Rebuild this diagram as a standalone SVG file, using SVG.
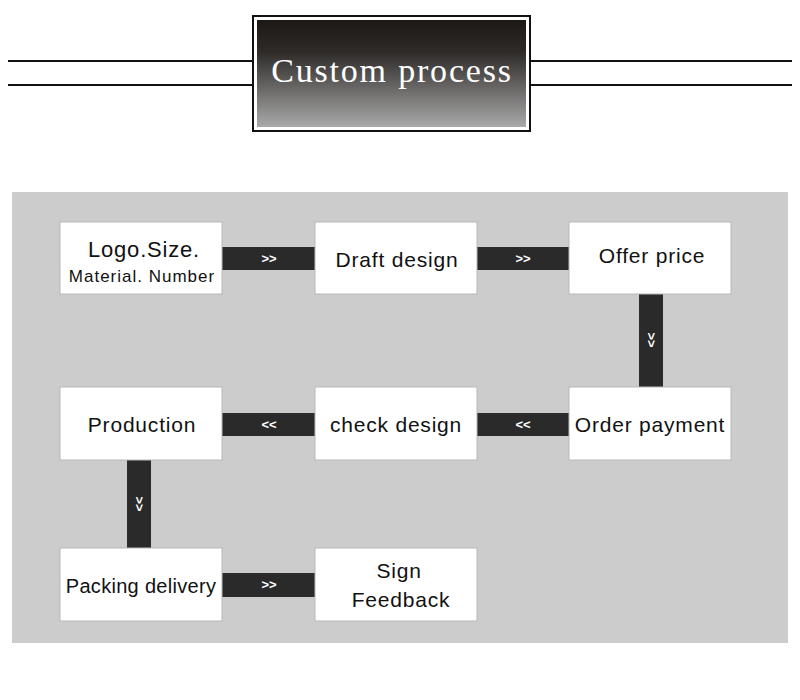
<svg xmlns="http://www.w3.org/2000/svg" width="800" height="700" viewBox="0 0 800 700">
<style>
.node rect{fill:#fff;stroke:#b8b8b8;stroke-width:1}
.node text{font-family:"Liberation Sans",Arial,sans-serif;font-size:21px;fill:#111;text-anchor:middle;letter-spacing:0.8px}
.node text.sm{font-size:17px;letter-spacing:1px}
.node text.tight{font-size:20px;letter-spacing:0.3px}
.bar{fill:#2a2a2a}
.arr{font-family:"Liberation Sans",Arial,sans-serif;font-size:13px;font-weight:bold;fill:#fff;text-anchor:middle}
.hl{stroke:#111;stroke-width:2}
</style>
<defs>
<linearGradient id="hg" x1="0" y1="0" x2="0" y2="1">
<stop offset="0" stop-color="#1c1816"/>
<stop offset="0.3" stop-color="#2e2b29"/>
<stop offset="1" stop-color="#a9a9a9"/>
</linearGradient>
</defs>
<rect width="800" height="700" fill="#fff"/>
<g id="header">
<line class="hl" x1="8" y1="61" x2="253" y2="61"/>
<line class="hl" x1="8" y1="85" x2="253" y2="85"/>
<line class="hl" x1="530" y1="61" x2="792" y2="61"/>
<line class="hl" x1="530" y1="85" x2="792" y2="85"/>
<rect x="253" y="16" width="277" height="115" fill="#fff" stroke="#111" stroke-width="2"/>
<rect x="257" y="20" width="269" height="107" fill="url(#hg)"/>
<text x="392" y="82" font-family="'Liberation Serif','Times New Roman',serif" font-size="34" fill="#fff" text-anchor="middle" letter-spacing="1.8">Custom process</text>
</g>
<rect id="panel" x="12" y="192" width="776" height="451" fill="#cccccc"/>
<g id="connectors">
<rect class="bar" x="222" y="247" width="93" height="23"/>
<text class="arr" x="269" y="263">&gt;&gt;</text>
<rect class="bar" x="477" y="247" width="92" height="23"/>
<text class="arr" x="523" y="263">&gt;&gt;</text>
<rect class="bar" x="639" y="294" width="24" height="93"/>
<text class="arr" transform="translate(651,340) rotate(90)" x="0" y="4">&gt;&gt;</text>
<rect class="bar" x="477" y="413" width="92" height="23"/>
<text class="arr" x="523" y="429">&lt;&lt;</text>
<rect class="bar" x="222" y="413" width="93" height="23"/>
<text class="arr" x="269" y="429">&lt;&lt;</text>
<rect class="bar" x="127" y="460" width="24" height="88"/>
<text class="arr" transform="translate(139,504) rotate(90)" x="0" y="4">&gt;&gt;</text>
<rect class="bar" x="222" y="573" width="93" height="24"/>
<text class="arr" x="269" y="589">&gt;&gt;</text>
</g>
<g id="n1" class="node"><rect x="60" y="222" width="162" height="72"/><text x="144" y="257" style="font-size:22px">Logo.Size.</text><text class="sm" x="142" y="282">Material. Number</text></g>
<g id="n2" class="node"><rect x="315" y="222" width="162" height="72"/><text x="397" y="267">Draft design</text></g>
<g id="n3" class="node"><rect x="569" y="222" width="162" height="72"/><text x="652" y="263">Offer price</text></g>
<g id="n4" class="node"><rect x="569" y="387" width="162" height="73"/><text x="650" y="432">Order payment</text></g>
<g id="n5" class="node"><rect x="315" y="387" width="162" height="73"/><text x="396" y="432">check design</text></g>
<g id="n6" class="node"><rect x="60" y="387" width="162" height="73"/><text x="142" y="432">Production</text></g>
<g id="n7" class="node"><rect x="60" y="548" width="162" height="73"/><text class="tight" x="141" y="593">Packing delivery</text></g>
<g id="n8" class="node"><rect x="315" y="548" width="162" height="73"/><text x="399" y="578">Sign</text><text x="401" y="607">Feedback</text></g>
</svg>
